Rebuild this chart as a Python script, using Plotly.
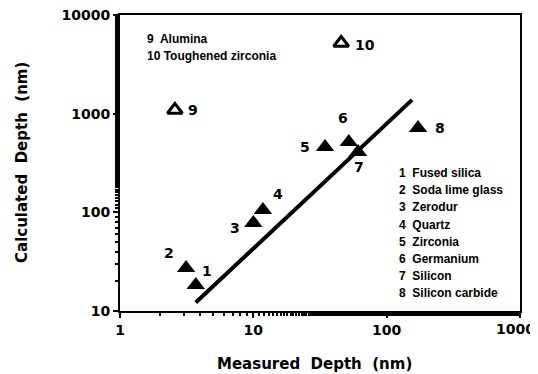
import numpy as np
import plotly.graph_objects as go

# Data
ids = [1, 2, 3, 4, 5, 6, 7, 8]
measured = [3.7, 3.13, 10.0, 11.8, 34.5, 52, 61, 172]
calculated = [18.3, 27.3, 78, 105.6, 459, 516, 409, 716]

open_ids = [9, 10]
open_measured = [2.58, 45.6]
open_calculated = [1089, 5200]

materials = ["Fused silica", "Soda lime glass", "Zerodur", "Quartz", "Zirconia",
             "Germanium", "Silicon", "Silicon carbide"]
open_materials = ["Alumina", "Toughened zirconia"]

fit_x = [3.7, 155]
fit_y = [12.2, 1380]

x_ticks = [1, 10, 100, 1000]
y_ticks = [10, 100, 1000, 10000]

# label offsets (pixels) relative to each point
label_dx = [11, -17, -18, 15, -20, -6, 1, 22]
label_dy = [14, 15, -5, 16, 0, 24, -15, 0]
open_dx = [18, 24]
open_dy = [0, -2]

TICKFONT = dict(family="DejaVu Sans", size=14, color="black", weight="bold")
TITLEFONT = dict(family="DejaVu Sans", size=15, color="black", weight="bold")
LBLFONT = dict(family="Liberation Sans", size=12, color="black", weight="bold")

fig = go.Figure()
fig.add_trace(go.Scatter(x=fit_x, y=fit_y, mode="lines",
                         line=dict(color="black", width=4), hoverinfo="skip"))
fig.add_trace(go.Scatter(x=measured, y=calculated, mode="markers",
                         marker=dict(symbol="triangle-up", size=16, color="black")))
fig.add_trace(go.Scatter(x=open_measured, y=open_calculated, mode="markers",
                         marker=dict(symbol="triangle-up-open", size=13,
                                     color="black", line=dict(width=3, color="black"))))

ann = []
for i, mx, cy, dx, dy in zip(ids, measured, calculated, label_dx, label_dy):
    ann.append(dict(x=np.log10(mx), y=np.log10(cy), xref="x", yref="y", text=str(i),
                    showarrow=False, xshift=dx, yshift=dy, font=TICKFONT))
for i, mx, cy, dx, dy in zip(open_ids, open_measured, open_calculated, open_dx, open_dy):
    ann.append(dict(x=np.log10(mx), y=np.log10(cy), xref="x", yref="y", text=str(i),
                    showarrow=False, xshift=dx, yshift=dy, font=TICKFONT))

# legend lists
for k, (i, name) in enumerate(zip(open_ids, open_materials)):
    sep = "  " if i < 10 else " "
    ann.append(dict(x=0.0625, y=0.919 - k * 0.058, xref="paper", yref="paper",
                    text=f"{i}{sep}{name}", showarrow=False, xanchor="left",
                    yanchor="middle", font=LBLFONT))
for k, (i, name) in enumerate(zip(ids, materials)):
    ann.append(dict(x=0.6925, y=0.466 - k * 0.058, xref="paper", yref="paper",
                    text=f"{i}  {name}", showarrow=False, xanchor="left",
                    yanchor="middle", font=LBLFONT))

# last x tick label, right-aligned so it stays inside the page (as in the reference)
x_ticktext = [str(v) for v in x_ticks]
last_label = x_ticktext[-1]
x_ticktext[-1] = ""
ann.append(dict(x=np.log10(x_ticks[-1]), y=0, xref="x", yref="paper", text=last_label,
                showarrow=False, xanchor="right", yanchor="top", xshift=17, yshift=-8,
                font=TICKFONT))

# axis titles
ann.append(dict(x=0.485, y=-0.178, xref="paper", yref="paper",
                text="Measured&nbsp;&nbsp;Depth&nbsp;&nbsp;(nm)", showarrow=False,
                xanchor="center", yanchor="middle", font=TITLEFONT))
ann.append(dict(x=-0.245, y=0.50, xref="paper", yref="paper", textangle=-90,
                text="Calculated&nbsp;&nbsp;Depth&nbsp;&nbsp;(nm)", showarrow=False,
                xanchor="center", yanchor="middle", font=TITLEFONT))

axis_common = dict(type="log", showgrid=False, zeroline=False, showline=True,
                   linecolor="black", linewidth=2, mirror=True, ticks="outside",
                   ticklen=5, tickwidth=2, tickcolor="black", tickfont=TICKFONT,
                   automargin=False, ticklabeloverflow="allow",
                   minor=dict(ticks="outside", ticklen=3, tickwidth=1.5,
                              tickcolor="black", showgrid=False))

# page body has an 8px margin, so the figure is sized/offset to compensate
fig.update_layout(
    width=530, height=366,
    margin=dict(l=112, r=18, t=7, b=63),
    paper_bgcolor="white", plot_bgcolor="white",
    showlegend=False,
    annotations=ann,
    xaxis=dict(axis_common, range=[0, 3], tickvals=x_ticks, ticktext=x_ticktext),
    yaxis=dict(axis_common, range=[1, 4], tickvals=y_ticks,
               ticktext=[str(v) for v in y_ticks]),
)

fig.write_html("out.html")
